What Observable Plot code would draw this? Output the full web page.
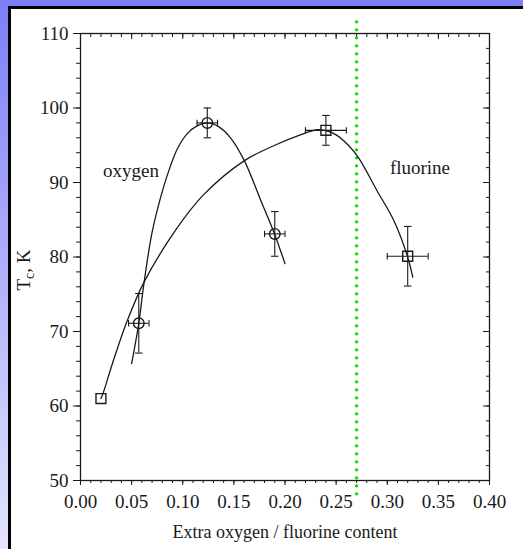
<!DOCTYPE html>
<html>
<head>
<meta charset="utf-8">
<script src="https://cdn.jsdelivr.net/npm/d3@7"></script>
<script src="https://cdn.jsdelivr.net/npm/@observablehq/plot@0.6"></script>
<style>
  body { margin: 0; }
  #wrap { position: relative; width: 523px; height: 549px; overflow: hidden;
          background: linear-gradient(to bottom, #7e7ef8, #e4e4ff); }
  #panel { position: absolute; left: 8px; top: 6px; right: -3px; bottom: -3px;
           background: #fff; border: 3px solid #000; }
  #chart { position: absolute; left: 0; top: 0; }
</style>
</head>
<body>
<div id="wrap"><div id="panel"></div><div id="chart"></div></div>
<script>
// ---- data ----
const xMajor = [0, 0.05, 0.10, 0.15, 0.20, 0.25, 0.30, 0.35, 0.40];
const xMinor = d3.range(0, 41).map(i => i / 100);
const yMajor = [50, 60, 70, 80, 90, 100, 110];
const yMinor = d3.range(50, 111, 2);

// oxygen points (circle markers)
const oxyX  = [0.057, 0.124, 0.190];
const oxyY  = [71.1, 98.0, 83.1];
const oxyEx = [0.010, 0.010, 0.010];
const oxyEy = [4.0, 2.0, 3.0];

// fluorine points (square markers)
const fluX  = [0.020, 0.240, 0.320];
const fluY  = [61.0, 97.0, 80.1];
const fluEx = [0, 0.020, 0.020];
const fluEy = [0, 2.0, 4.0];

// fitted curves
const oxyCurveX = [0.050, 0.057, 0.062, 0.070, 0.080, 0.0874, 0.095, 0.104, 0.114, 0.124, 0.135, 0.1467, 0.160, 0.176, 0.190, 0.200];
const oxyCurveY = [65.7, 71.1, 76.4, 83.3, 88.8, 92.0, 94.6, 96.5, 97.6, 98.0, 97.5, 96.0, 93.0, 87.7, 83.0, 79.1];
const fluCurveX = [0.020, 0.0228, 0.031, 0.0456, 0.062, 0.093, 0.120, 0.160, 0.190, 0.215, 0.232, 0.240, 0.250, 0.262, 0.272, 0.290, 0.3064, 0.3195, 0.325];
const fluCurveY = [61.0, 62.0, 65.6, 71.4, 76.6, 83.6, 88.3, 92.9, 95.0, 96.4, 97.1, 96.95, 96.4, 95.0, 93.3, 88.9, 84.9, 80.2, 77.3];

// green dotted boundary
const boundaryX = [0.27];
const boundaryY = [111.5, 47.9];

const seriesLabels = ["oxygen", "fluorine"];
const labelX = [0.0494, 0.332];
const labelY = [91.5, 92.0];

const xLabel = "Extra oxygen / fluorine content";

// ---- build tables ----
const oxy = oxyX.map((x, i) => ({x, y: oxyY[i], ex: oxyEx[i], ey: oxyEy[i]}));
const flu = fluX.map((x, i) => ({x, y: fluY[i], ex: fluEx[i], ey: fluEy[i]}));
const pts = [...oxy, ...flu].filter(d => d.ey > 0);
const oxyCurve = oxyCurveX.map((x, i) => ({x, y: oxyCurveY[i]}));
const fluCurve = fluCurveX.map((x, i) => ({x, y: fluCurveY[i]}));
const labels = seriesLabels.map((t, i) => ({t, x: labelX[i], y: labelY[i]}));

const hcap = {draw(ctx, size) { const w = Math.sqrt(size) / 2; ctx.moveTo(-w, 0); ctx.lineTo(w, 0); }};
const vcap = {draw(ctx, size) { const w = Math.sqrt(size) / 2; ctx.moveTo(0, -w); ctx.lineTo(0, w); }};

const ink = "#1a1a1a";
const font = "'Liberation Serif', 'Times New Roman', serif";

const chart = Plot.plot({
  width: 523,
  height: 549,
  marginLeft: 80,
  marginRight: 34,
  marginTop: 33,
  marginBottom: 69,
  style: {background: "transparent", color: ink, fontFamily: font, fontSize: "19px"},
  x: {domain: [0, 0.4], axis: null},
  y: {domain: [50, 110], axis: null},
  marks: [
    // axes ticks
    Plot.axisX(xMajor, {anchor: "bottom", tickSize: 5, tickPadding: 9, tickFormat: d3.format(".2f"), label: null, fontSize: 19}),
    Plot.axisX(xMinor, {anchor: "bottom", tickSize: 3, tickFormat: () => "", label: null}),
    Plot.axisX(xMajor, {anchor: "top", tickSize: -5, tickFormat: () => "", label: null}),
    Plot.axisX(xMinor, {anchor: "top", tickSize: -3, tickFormat: () => "", label: null}),
    Plot.axisY(yMajor, {anchor: "left", tickSize: 7, tickPadding: 5, label: null, fontSize: 19}),
    Plot.axisY(yMinor, {anchor: "left", tickSize: 4, tickFormat: () => "", label: null}),
    Plot.axisY(yMajor, {anchor: "right", tickSize: -7, tickFormat: () => "", label: null}),
    Plot.axisY(yMinor, {anchor: "right", tickSize: -4, tickFormat: () => "", label: null}),
    Plot.frame({stroke: ink, strokeWidth: 1.3}),
    // boundary
    Plot.ruleX(boundaryX, {y1: boundaryY[0], y2: boundaryY[1], stroke: "#00e000", strokeWidth: 3.4, strokeDasharray: "0 8", strokeLinecap: "round"}),
    // curves
    Plot.line(oxyCurve, {x: "x", y: "y", curve: "catmull-rom", stroke: ink, strokeWidth: 1.3}),
    Plot.line(fluCurve, {x: "x", y: "y", curve: "catmull-rom", stroke: ink, strokeWidth: 1.3}),
    // error bars
    Plot.ruleX(pts, {x: "x", y1: d => d.y - d.ey, y2: d => d.y + d.ey, stroke: ink, strokeWidth: 1.1}),
    Plot.ruleY(pts, {y: "y", x1: d => d.x - d.ex, x2: d => d.x + d.ex, stroke: ink, strokeWidth: 1.1}),
    Plot.dot(pts, {x: "x", y: d => d.y + d.ey, symbol: hcap, r: 4.2, fill: "none", stroke: ink, strokeWidth: 1.1}),
    Plot.dot(pts, {x: "x", y: d => d.y - d.ey, symbol: hcap, r: 4.2, fill: "none", stroke: ink, strokeWidth: 1.1}),
    Plot.dot(pts, {x: d => d.x + d.ex, y: "y", symbol: vcap, r: 3.6, fill: "none", stroke: ink, strokeWidth: 1.1}),
    Plot.dot(pts, {x: d => d.x - d.ex, y: "y", symbol: vcap, r: 3.6, fill: "none", stroke: ink, strokeWidth: 1.1}),
    // markers
    Plot.dot(oxy, {x: "x", y: "y", symbol: "circle", r: 5.3, fill: "none", stroke: ink, strokeWidth: 1.4}),
    Plot.dot(flu, {x: "x", y: "y", symbol: "square", r: 5.6, fill: "none", stroke: ink, strokeWidth: 1.4}),
    // labels
    Plot.text(labels, {x: "x", y: "y", text: "t", fontSize: 19, fill: ink}),
    Plot.text([xLabel], {frameAnchor: "bottom", dy: 57, fontSize: 18, fill: ink})
  ]
});

document.getElementById("chart").appendChild(chart);

// y-axis title with subscript
const svg = d3.select(chart);
const yt = svg.append("text")
  .attr("transform", "translate(30,270) rotate(-90)")
  .attr("text-anchor", "middle")
  .attr("font-family", font)
  .attr("font-size", 19)
  .attr("fill", ink);
yt.append("tspan").text("T");
yt.append("tspan").attr("font-size", 14).attr("dy", 4).text("c");
yt.append("tspan").attr("dy", -4).text(", K");
</script>
</body>
</html>
